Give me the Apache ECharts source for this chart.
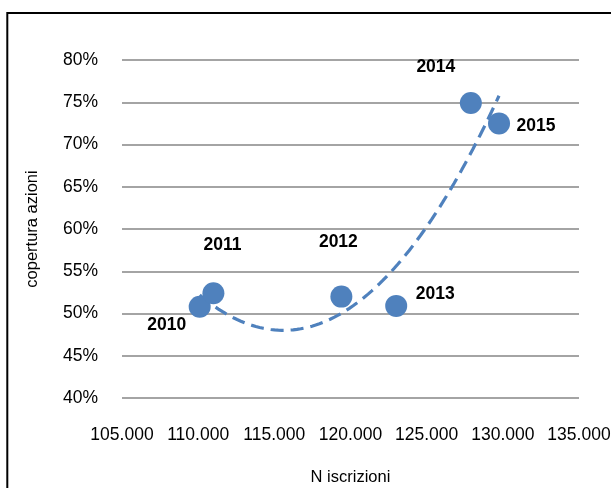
<!DOCTYPE html>
<html>
<head>
<meta charset="utf-8">
<title>copertura azioni / N iscrizioni</title>
<script src="https://cdn.jsdelivr.net/npm/echarts@6/dist/echarts.min.js"></script>
<style>
  html, body { margin: 0; padding: 0; background: #ffffff; }
  #chart { width: 611px; height: 488px; }
</style>
</head>
<body>
<div id="chart"></div>
<script>
// Annual observations: enrolments vs. share coverage
const years = ['2010', '2011', '2012', '2013', '2014', '2015'];
const iscrizioni = [110100, 111000, 119400, 123000, 127900, 129750];
const copertura = [50.8, 52.4, 52.0, 50.9, 74.9, 72.5];

// Axis ticks
const xTicks = [105000, 110000, 115000, 120000, 125000, 130000, 135000];
const yTicks = [40, 45, 50, 55, 60, 65, 70, 75, 80];

const BLUE = '#4f81bd';
const FONT = "'Liberation Sans', Arial, sans-serif";

// Where each year label sits relative to its marker
const labelOffsets = {
  '2010': [-33, 18],
  '2011': [9, -48],
  '2012': [-3, -54],
  '2013': [39, -12],
  '2014': [-35, -36],
  '2015': [37, 3]
};

// Second-order polynomial least-squares trend line
function polyFit2(xs, ys) {
  const x0 = xs.reduce((a, b) => a + b, 0) / xs.length;
  const s = [0, 0, 0, 0, 0], t = [0, 0, 0];
  xs.forEach((xv, i) => {
    const u = (xv - x0) / 1000;
    let p = 1;
    for (let k = 0; k < 5; k++) { s[k] += p; if (k < 3) t[k] += p * ys[i]; p *= u; }
  });
  const M = [[s[0], s[1], s[2], t[0]], [s[1], s[2], s[3], t[1]], [s[2], s[3], s[4], t[2]]];
  for (let c = 0; c < 3; c++) {
    for (let r = c + 1; r < 3; r++) {
      const f = M[r][c] / M[c][c];
      for (let k = c; k < 4; k++) M[r][k] -= f * M[c][k];
    }
  }
  const coef = [0, 0, 0];
  for (let r = 2; r >= 0; r--) {
    let v = M[r][3];
    for (let k = r + 1; k < 3; k++) v -= M[r][k] * coef[k];
    coef[r] = v / M[r][r];
  }
  return xv => { const u = (xv - x0) / 1000; return coef[0] + coef[1] * u + coef[2] * u * u; };
}

const trend = polyFit2(iscrizioni, copertura);
const xMin = Math.min(...iscrizioni), xMax = Math.max(...iscrizioni);
const trendData = [];
for (let i = 0; i <= 80; i++) {
  const xv = xMin + (xMax - xMin) * i / 80;
  trendData.push([xv, trend(xv)]);
}

const points = years.map((y, i) => ({
  name: y,
  value: [iscrizioni[i], copertura[i]],
  label: { offset: labelOffsets[y] }
}));

const chart = echarts.init(document.getElementById('chart'), null, { renderer: 'canvas' });
chart.setOption({
  animation: false,
  backgroundColor: '#ffffff',
  grid: { left: 122, right: 32, top: 60, bottom: 90, containLabel: false, outerBoundsMode: 'none' },
  graphic: [{
    type: 'rect',
    shape: { x: 7.3, y: 13, width: 700, height: 600 },
    style: { fill: 'none', stroke: '#000000', lineWidth: 2 },
    silent: true, z: 100
  }],
  xAxis: {
    type: 'value',
    min: xTicks[0],
    max: xTicks[xTicks.length - 1],
    interval: 5000,
    name: 'N iscrizioni',
    nameLocation: 'middle',
    nameGap: 71,
    nameTextStyle: { fontFamily: FONT, fontSize: 16.5, color: '#000000' },
    axisLine: { show: false },
    axisTick: { show: false },
    splitLine: { show: false },
    axisLabel: {
      margin: 28,
      fontFamily: FONT, fontSize: 17.5, color: '#000000',
      formatter: v => (v / 1000).toFixed(3)
    }
  },
  yAxis: {
    type: 'value',
    min: yTicks[0],
    max: yTicks[yTicks.length - 1],
    interval: 5,
    name: 'copertura azioni',
    nameLocation: 'middle',
    nameGap: 81,
    nameTextStyle: { fontFamily: FONT, fontSize: 16.5, color: '#000000' },
    axisLine: { show: false },
    axisTick: { show: false },
    splitLine: { show: true, lineStyle: { color: '#868686', width: 1.5 } },
    axisLabel: {
      margin: 24,
      fontFamily: FONT, fontSize: 17.5, color: '#000000',
      formatter: v => v + '%'
    }
  },
  series: [
    {
      name: 'trend',
      type: 'line',
      data: trendData,
      showSymbol: false,
      smooth: false,
      z: 2,
      lineStyle: { color: BLUE, width: 3.2, type: [13, 7], cap: 'butt' },
      silent: true
    },
    {
      name: 'copertura',
      type: 'scatter',
      data: points,
      symbolSize: 22,
      z: 3,
      itemStyle: { color: BLUE, opacity: 1 },
      label: {
        show: true,
        position: 'inside',
        formatter: p => p.name,
        fontFamily: FONT, fontSize: 17.5, fontWeight: 'bold', color: '#000000'
      }
    }
  ]
});
</script>
</body>
</html>
